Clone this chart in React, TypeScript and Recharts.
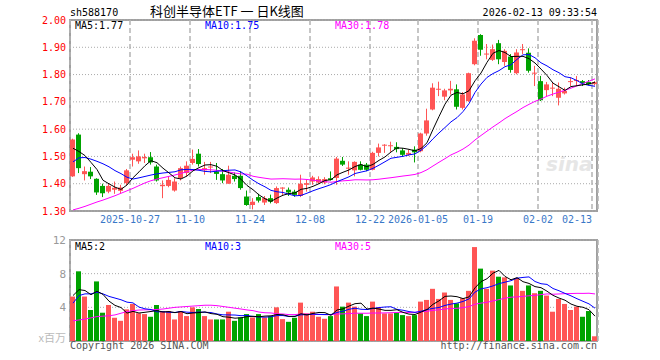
import React from 'react';
import {
  ComposedChart,
  Bar,
  Line,
  XAxis,
  YAxis,
  CartesianGrid,
  Cell,
} from 'recharts';

// daily candles, 2025-10-13 .. 2026-02-13 (index 0..87)
const opens = [
  1.427, 1.58, 1.435, 1.444, 1.418, 1.392, 1.371, 1.378, 1.374, 1.402,
  1.488, 1.482, 1.493, 1.497, 1.463, 1.391, 1.392, 1.375, 1.421, 1.439,
  1.476, 1.51, 1.449, 1.46, 1.445, 1.435, 1.4, 1.429, 1.429, 1.353,
  1.322, 1.351, 1.331, 1.347, 1.329, 1.382, 1.378, 1.371, 1.355, 1.396,
  1.408, 1.404, 1.404, 1.42, 1.421, 1.484, 1.455, 1.449, 1.47, 1.47,
  1.451, 1.513, 1.541, 1.539, 1.535, 1.522, 1.506, 1.525, 1.519, 1.584,
  1.672, 1.746, 1.719, 1.742, 1.746, 1.678, 1.703, 1.838, 1.945, 1.875,
  1.854, 1.915, 1.846, 1.866, 1.805, 1.891, 1.88, 1.805, 1.776, 1.743,
  1.75, 1.715, 1.731, 1.774, 1.778, 1.776, 1.773, 1.765,
];
const highs = [
  1.565, 1.585, 1.463, 1.461, 1.42, 1.4, 1.402, 1.408, 1.396, 1.454,
  1.51, 1.522, 1.51, 1.516, 1.47, 1.412, 1.426, 1.42, 1.463, 1.482,
  1.525, 1.527, 1.48, 1.48, 1.476, 1.454, 1.466, 1.441, 1.445, 1.375,
  1.347, 1.363, 1.355, 1.36, 1.39, 1.387, 1.386, 1.378, 1.433, 1.414,
  1.429, 1.427, 1.424, 1.445, 1.498, 1.498, 1.482, 1.482, 1.482, 1.476,
  1.517, 1.547, 1.545, 1.554, 1.552, 1.53, 1.525, 1.537, 1.587, 1.675,
  1.768, 1.774, 1.748, 1.777, 1.764, 1.736, 1.807, 1.933, 1.948, 1.912,
  1.91, 1.927, 1.893, 1.875, 1.893, 1.912, 1.896, 1.832, 1.795, 1.773,
  1.773, 1.771, 1.752, 1.789, 1.795, 1.78, 1.78, 1.776,
];
const lows = [
  1.425, 1.439, 1.412, 1.417, 1.359, 1.351, 1.365, 1.363, 1.365, 1.395,
  1.463, 1.473, 1.476, 1.47, 1.408, 1.347, 1.387, 1.371, 1.412, 1.427,
  1.47, 1.463, 1.433, 1.439, 1.414, 1.402, 1.4, 1.408, 1.378, 1.319,
  1.306, 1.331, 1.322, 1.328, 1.326, 1.359, 1.355, 1.352, 1.351, 1.371,
  1.396, 1.4, 1.398, 1.412, 1.396, 1.465, 1.433, 1.427, 1.449, 1.446,
  1.449, 1.5, 1.513, 1.517, 1.515, 1.498, 1.502, 1.478, 1.515, 1.576,
  1.669, 1.721, 1.706, 1.727, 1.672, 1.672, 1.7, 1.834, 1.869, 1.856,
  1.85, 1.838, 1.832, 1.807, 1.801, 1.875, 1.807, 1.758, 1.703, 1.721,
  1.721, 1.687, 1.727, 1.758, 1.758, 1.758, 1.76, 1.76,
];
const closes = [
  1.562, 1.457, 1.446, 1.427, 1.368, 1.365, 1.392, 1.385, 1.386, 1.449,
  1.497, 1.5, 1.498, 1.478, 1.412, 1.396, 1.414, 1.408, 1.457, 1.466,
  1.491, 1.472, 1.457, 1.463, 1.436, 1.412, 1.433, 1.417, 1.384, 1.322,
  1.334, 1.338, 1.347, 1.334, 1.384, 1.386, 1.368, 1.359, 1.4, 1.402,
  1.423, 1.417, 1.417, 1.414, 1.492, 1.47, 1.459, 1.48, 1.451, 1.451,
  1.513, 1.533, 1.543, 1.541, 1.527, 1.506, 1.513, 1.515, 1.584, 1.632,
  1.752, 1.748, 1.742, 1.748, 1.682, 1.727, 1.805, 1.924, 1.891, 1.877,
  1.893, 1.856, 1.887, 1.817, 1.881, 1.893, 1.814, 1.807, 1.706, 1.764,
  1.752, 1.748, 1.74, 1.776, 1.78, 1.768, 1.764, 1.772,
];
// volume, millions
const volumes = [
  5.28, 8.28, 5.28, 3.68, 7.08, 3.36, 4.28, 2.76, 2.4, 3.76,
  4.4, 3.3, 3.2, 2.88, 4.28, 3.56, 3.56, 2.56, 3.56, 2.96,
  4.0, 3.8, 2.96, 2.56, 2.56, 2.56, 3.48, 2.4, 2.8, 3.2,
  2.8, 3.2, 2.8, 2.96, 4.0, 2.6, 2.28, 2.76, 4.56, 3.28,
  3.48, 2.88, 2.64, 2.96, 6.48, 4.08, 4.56, 4.08, 3.28, 2.96,
  4.68, 4.0, 3.28, 3.28, 3.36, 3.08, 2.96, 3.08, 4.68, 4.88,
  6.2, 5.0, 5.76, 4.88, 4.48, 5.08, 5.96, 11.16, 8.6, 6.2,
  8.36, 7.64, 7.56, 6.6, 7.48, 5.96, 6.6, 5.68, 5.96, 5.4,
  3.48, 5.0, 4.4, 3.68, 4.08, 2.88, 3.56, 0.56,
];

// MA values at the left edge (window reaches back before the first candle)
const ma5Head = [1.53, 1.518, 1.503, 1.478];
const ma10Head = [1.48, 1.495, 1.496, 1.49, 1.482, 1.473, 1.462, 1.448, 1.437];
const ma30Head = [
  1.304, 1.31, 1.317, 1.325, 1.333, 1.34, 1.348, 1.356, 1.365, 1.374,
  1.383, 1.393, 1.403, 1.411, 1.417, 1.422, 1.427, 1.432, 1.438, 1.444,
  1.45, 1.452, 1.452, 1.451, 1.449, 1.446, 1.443, 1.439, 1.436,
];
const vma5Head = [5.4, 6.1, 6.0, 5.5];
const vma10Head = [4.5, 5.4, 5.6, 5.6, 5.8, 5.6, 5.3, 5.1, 4.9];
const vma30Head = [
  2.4, 2.5, 2.6, 2.75, 2.9, 2.95, 3.0, 3.1, 3.3, 3.5,
  3.6, 3.68, 3.7, 3.72, 3.75, 3.8, 3.9, 4.0, 4.05, 4.1,
  4.15, 4.2, 4.25, 4.25, 4.2, 4.1, 4.0, 3.9, 3.8,
];

const tickIndex = [10, 20, 30, 40, 50, 58, 68, 78, 87];
const tickLabels = ['2025-10-27', '11-10', '11-24', '12-08', '12-22', '2026-01-05', '01-19', '02-02', '02-13'];
const priceTicks = [1.3, 1.4, 1.5, 1.6, 1.7, 1.8, 1.9, 2.0];
const volTicks = [0, 4, 8, 12];

const RED = '#ff5555';
const GREEN = '#00a300';
const MONO = '"DejaVu Sans Mono", monospace';

const movingAvg = (vals: number[], n: number, head: number[]) =>
  vals.map((_, i) => {
    if (i < n - 1) return head[i];
    let s = 0;
    for (let k = i - n + 1; k <= i; k++) s += vals[k];
    return s / n;
  });

const ma5 = movingAvg(closes, 5, ma5Head);
const ma10 = movingAvg(closes, 10, ma10Head);
const ma30 = movingAvg(closes, 30, ma30Head);
const vma5 = movingAvg(volumes, 5, vma5Head);
const vma10 = movingAvg(volumes, 10, vma10Head);
const vma30 = movingAvg(volumes, 30, vma30Head);

const rows = closes.map((c, i) => ({
  i,
  o: opens[i],
  h: highs[i],
  l: lows[i],
  c,
  v: volumes[i],
  range: [lows[i], highs[i]],
  ma5: ma5[i],
  ma10: ma10[i],
  ma30: ma30[i],
  vma5: vma5[i],
  vma10: vma10[i],
  vma30: vma30[i],
}));

const xTicks = tickIndex.map((i) => i - 0.5);

const Candle = (props: any) => {
  const { x, y, height, payload } = props;
  const { o, h, l, c } = payload;
  const color = c >= o ? RED : GREEN;
  const k = height / (h - l);
  const yO = y + (h - o) * k;
  const yC = y + (h - c) * k;
  const left = Math.floor(x);
  const cx = left + 2.5;
  const top = Math.min(yO, yC);
  const bh = Math.max(Math.abs(yO - yC), 1);
  return (
    <g>
      <line x1={cx} x2={cx} y1={y} y2={y + height} stroke={color} strokeWidth={1} />
      <rect x={left} y={top} width={5} height={bh} fill={color} />
    </g>
  );
};

const DateTick = (props: any) => {
  const { x, y, payload } = props;
  const idx = xTicks.indexOf(payload.value);
  const last = idx === xTicks.length - 1;
  return (
    <text
      x={x}
      y={y + 10}
      textAnchor={last ? 'end' : 'middle'}
      fill="#3a78c8"
      fontSize={10}
      fontFamily={MONO}
    >
      {tickLabels[idx]}
    </text>
  );
};

const VolTick = (props: any) => {
  const { x, y, payload } = props;
  if (payload.value === 0) {
    return (
      <text x={x} y={y + 1} textAnchor="end" fill="#bbb" fontSize={11} fontFamily='"Noto Sans CJK SC", sans-serif'>
        x百万
      </text>
    );
  }
  return (
    <text x={x} y={y + 4} textAnchor="end" fill="#999" fontSize={11} fontFamily={MONO}>
      {payload.value}
    </text>
  );
};

const txt = (left: number, top: number, color: string, extra: any = {}) => ({
  position: 'absolute' as const,
  left,
  top,
  color,
  fontSize: 10,
  lineHeight: '10px',
  fontFamily: MONO,
  whiteSpace: 'nowrap' as const,
  ...extra,
});

const frame = (top: number, height: number) => ({
  position: 'absolute' as const,
  left: 69,
  top,
  width: 529,
  height,
  border: '2px solid #a0a0a0',
  boxSizing: 'border-box' as const,
});

const App = () => {
  return (
    <div
      style={{
        position: 'absolute',
        left: 0,
        top: 0,
        width: 660,
        height: 360,
        background: '#fff',
        overflow: 'hidden',
      }}
    >
      {/* frames under the charts */}
      <div style={frame(19, 193)}></div>
      <div style={frame(239, 103)}></div>

      {/* watermark */}
      <div
        style={{
          position: 'absolute',
          left: 546,
          top: 152,
          fontSize: 20,
          fontStyle: 'italic',
          fontWeight: 'bold',
          fontFamily: 'Verdana, "DejaVu Sans", sans-serif',
          color: '#e6e6e6',
        }}
      >
        sina
      </div>

      {/* price chart */}
      <div style={{ position: 'absolute', left: 0, top: 0 }}>
        <ComposedChart
          width={660}
          height={230}
          data={rows}
          margin={{ top: 20, right: 62, bottom: 0, left: 0 }}
        >
          <CartesianGrid vertical={false} stroke="#aaa" strokeDasharray="1 2" />
          <CartesianGrid horizontal={false} stroke="#b4b4b4" strokeDasharray="5 3" strokeWidth={1.5} />
          <XAxis
            type="number"
            dataKey="i"
            domain={[-0.5, 87.5]}
            allowDataOverflow
            ticks={xTicks}
            interval={0}
            height={19}
            axisLine={false}
            tickLine={false}
            tickSize={0}
            tick={<DateTick />}
          />
          <YAxis
            domain={[1.3, 2.0]}
            allowDataOverflow
            ticks={priceTicks}
            interval={0}
            width={70}
            axisLine={false}
            tickLine={false}
            tickSize={0}
            tickMargin={4}
            tickFormatter={(v: number) => v.toFixed(2)}
            tick={{ fill: '#f00', fontSize: 10, fontFamily: MONO }}
          />
          <Bar dataKey="range" barSize={5} shape={Candle} isAnimationActive={false} />
          <Line type="linear" dataKey="ma30" stroke="#ff00ff" strokeWidth={1} dot={false} isAnimationActive={false} />
          <Line type="linear" dataKey="ma10" stroke="#0000ff" strokeWidth={1} dot={false} isAnimationActive={false} />
          <Line type="linear" dataKey="ma5" stroke="#000" strokeWidth={1} dot={false} isAnimationActive={false} />
        </ComposedChart>
      </div>

      {/* volume chart */}
      <div style={{ position: 'absolute', left: 0, top: 230 }}>
        <ComposedChart
          width={660}
          height={130}
          data={rows}
          margin={{ top: 10, right: 62, bottom: 0, left: 0 }}
        >
          <CartesianGrid vertical={false} stroke="#aaa" strokeDasharray="1 2" />
          <CartesianGrid horizontal={false} stroke="#b4b4b4" strokeDasharray="5 3" strokeWidth={1.5} />
          <XAxis
            type="number"
            dataKey="i"
            domain={[-0.5, 87.5]}
            allowDataOverflow
            ticks={xTicks}
            interval={0}
            height={19}
            axisLine={false}
            tickLine={false}
            tick={false}
          />
          <YAxis
            domain={[0, 12]}
            allowDataOverflow
            ticks={volTicks}
            interval={0}
            width={70}
            axisLine={false}
            tickLine={false}
            tickSize={0}
            tickMargin={4}
            tick={<VolTick />}
          />
          <Bar dataKey="v" barSize={5} isAnimationActive={false}>
            {rows.map((r) => (
              <Cell key={r.i} fill={r.c >= r.o ? RED : GREEN} />
            ))}
          </Bar>
          <Line type="linear" dataKey="vma30" stroke="#ff00ff" strokeWidth={1} dot={false} isAnimationActive={false} />
          <Line type="linear" dataKey="vma10" stroke="#0000ff" strokeWidth={1} dot={false} isAnimationActive={false} />
          <Line type="linear" dataKey="vma5" stroke="#000" strokeWidth={1} dot={false} isAnimationActive={false} />
        </ComposedChart>
      </div>

      {/* header */}
      <div style={txt(70, 8, '#000')}>sh588170</div>
      <div
        style={{
          position: 'absolute',
          left: 150,
          top: 4,
          fontSize: 13,
          lineHeight: '13px',
          fontFamily: '"Noto Sans CJK SC", sans-serif',
          color: '#000',
          whiteSpace: 'nowrap',
        }}
      >
        科创半导体ETF 一 日K线图
      </div>
      <div style={txt(0, 8, '#000', { left: 'auto', right: 63 })}>2026-02-13 09:33:54</div>

      {/* price MA legend */}
      <div style={txt(75, 21, '#000')}>MA5:1.77</div>
      <div style={txt(205, 21, '#0000ff')}>MA10:1.75</div>
      <div style={txt(335, 21, '#ff00ff')}>MA30:1.78</div>

      {/* volume MA legend */}
      <div style={txt(75, 242, '#000')}>MA5:2</div>
      <div style={txt(205, 242, '#0000ff')}>MA10:3</div>
      <div style={txt(335, 242, '#ff00ff')}>MA30:5</div>

      {/* footer */}
      <div style={txt(70, 341, '#555')}>Copyright 2026 SINA.COM</div>
      <div style={txt(0, 341, '#555', { left: 'auto', right: 63 })}>http://finance.sina.com.cn</div>
    </div>
  );
};

export default App;
